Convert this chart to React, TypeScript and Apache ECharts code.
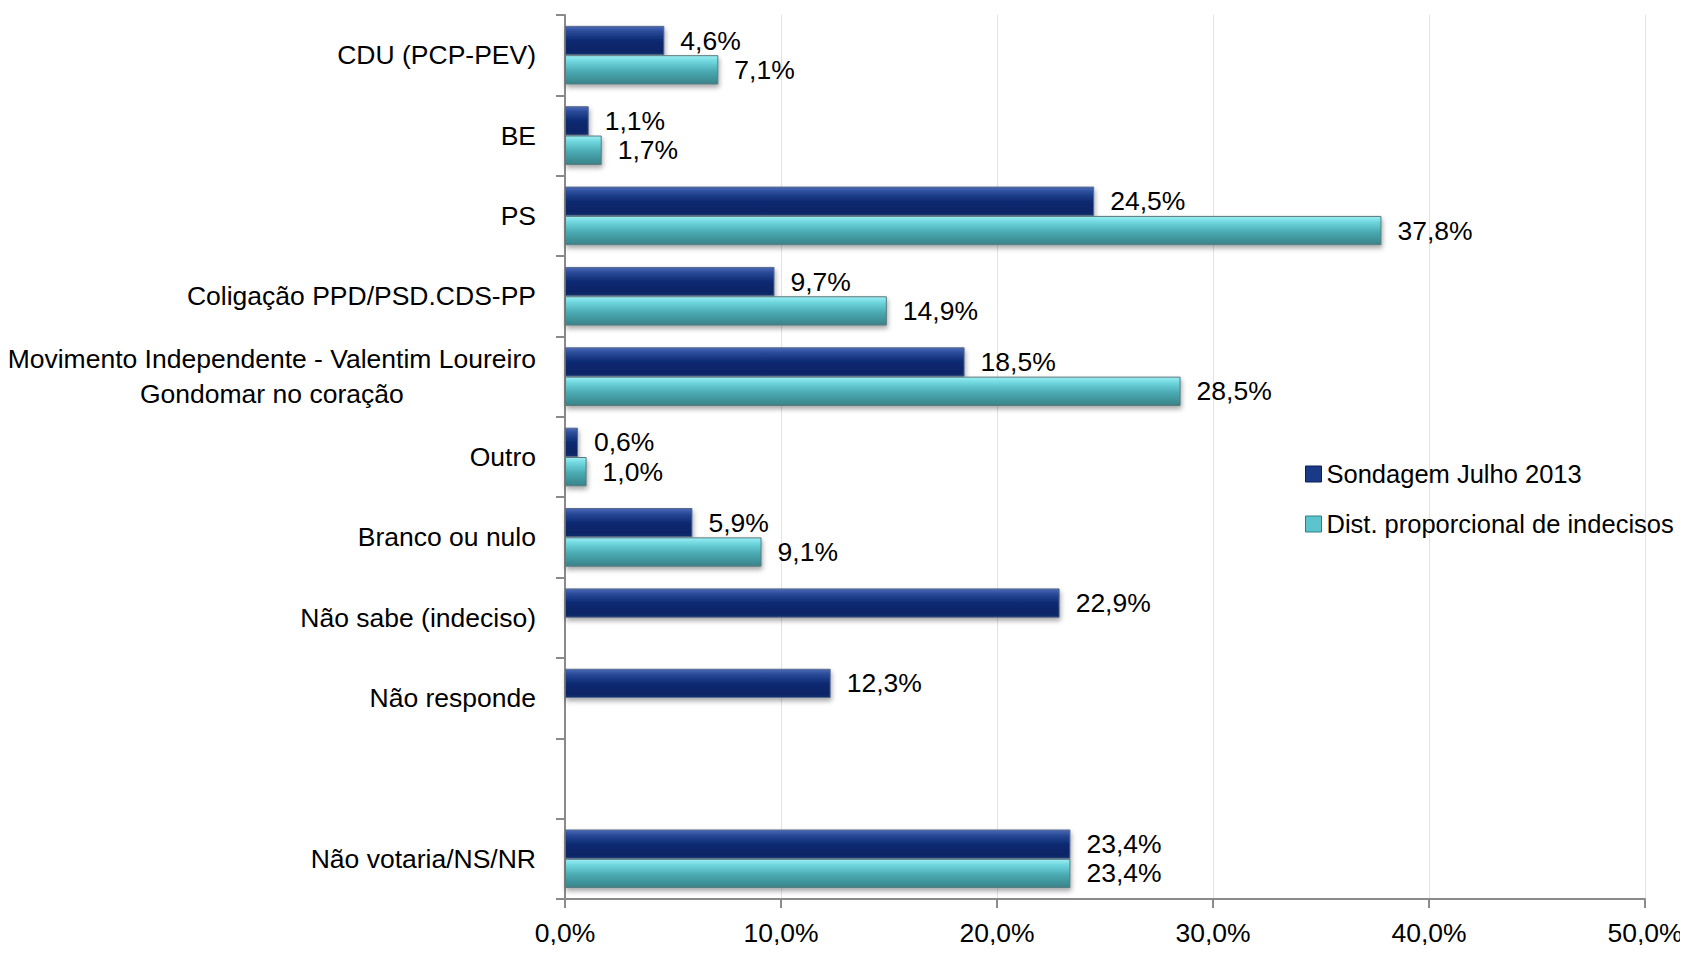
import React, { useEffect, useRef } from "react";
import * as echarts from "echarts";

const categories = [
  "CDU (PCP-PEV)",
  "BE",
  "PS",
  "Coligação PPD/PSD.CDS-PP",
  "Movimento Independente - Valentim Loureiro\nGondomar no coração",
  "Outro",
  "Branco ou nulo",
  "Não sabe (indeciso)",
  "Não responde",
  "",
  "Não votaria/NS/NR",
];
const sondagem = [4.6, 1.1, 24.5, 9.7, 18.5, 0.6, 5.9, 22.9, 12.3, null, 23.4];
const distProporcional = [7.1, 1.7, 37.8, 14.9, 28.5, 1.0, 9.1, null, null, null, 23.4];
const seriesNames = ["Sondagem Julho 2013", "Dist. proporcional de indecisos"];

const FONT = "'Liberation Sans', Arial, sans-serif";
const FS = 26.5;

const fmt = (v: number) => v.toFixed(1).replace(".", ",") + "%";

const darkGrad = new echarts.graphic.LinearGradient(0, 0, 0, 1, [
  { offset: 0, color: "#4a6ab8" },
  { offset: 0.18, color: "#2a4a98" },
  { offset: 0.5, color: "#0c2a72" },
  { offset: 0.85, color: "#0a2466" },
  { offset: 1, color: "#14306e" },
]);
const tealGrad = new echarts.graphic.LinearGradient(0, 0, 0, 1, [
  { offset: 0, color: "#9aeef4" },
  { offset: 0.2, color: "#6fd6de" },
  { offset: 0.55, color: "#4aaab2" },
  { offset: 0.85, color: "#3e9096" },
  { offset: 1, color: "#3a8288" },
]);

export default function App() {
  const ref = useRef<HTMLDivElement>(null);
  useEffect(() => {
    if (!ref.current) return;
    const chart = echarts.init(ref.current, null, { renderer: "svg" });
    const label = {
      show: true,
      position: "right" as const,
      distance: 16,
      color: "#000",
      fontFamily: FONT,
      fontSize: FS,
      formatter: (p: any) => (p.value == null ? "" : fmt(p.value)),
    };
    chart.setOption({
      animation: false,
      backgroundColor: "#fff",
      textStyle: { fontFamily: FONT },
      grid: {
        left: 565,
        right: 43,
        top: 15,
        bottom: 54,
        containLabel: false,
        outerBoundsMode: "none",
      },
      legend: {
        orient: "vertical",
        left: 1300,
        top: 456,
        itemWidth: 16,
        itemHeight: 16,
        itemGap: 24,
        itemStyle: {},
        icon: "rect",
        textStyle: { fontFamily: FONT, fontSize: 25.5, color: "#000", padding: [0, 0, 0, 0] },
        data: [
          { name: seriesNames[0], itemStyle: { color: "#1a3a88", borderColor: "#0a1f55", borderWidth: 1 } },
          { name: seriesNames[1], itemStyle: { color: "#5cc4cc", borderColor: "#2f7c82", borderWidth: 1 } },
        ],
      },
      xAxis: {
        type: "value",
        min: 0,
        max: 50,
        interval: 10,
        axisLine: { show: true, lineStyle: { color: "#8a8a8a", width: 2 } },
        axisTick: { show: true, length: 9, lineStyle: { color: "#8a8a8a", width: 2 } },
        splitLine: { show: true, lineStyle: { color: "#e2e2e2", width: 1 } },
        axisLabel: {
          fontFamily: FONT,
          fontSize: FS,
          color: "#000",
          margin: 20,
          formatter: (v: number) => fmt(v),
        },
      },
      yAxis: {
        type: "category",
        inverse: true,
        data: categories,
        axisLine: { show: true, lineStyle: { color: "#8a8a8a", width: 2 } },
        axisTick: { show: true, length: 9, lineStyle: { color: "#8a8a8a", width: 2 } },
        axisLabel: {
          fontFamily: FONT,
          fontSize: FS,
          color: "#000",
          margin: 29,
          lineHeight: 35,
          align: "right",
          formatter: (v: string) =>
            v.includes("\n")
              ? v
                  .split("\n")
                  .map((l) => `{c|${l}}`)
                  .join("\n")
              : v,
          rich: {
            c: { align: "center", fontFamily: FONT, fontSize: FS, color: "#000", lineHeight: 35 },
          },
        },
      },
      series: [
        {
          name: seriesNames[0],
          type: "bar",
          data: sondagem,
          barGap: "0%",
          barCategoryGap: "27%",
          itemStyle: {
            color: darkGrad,
            borderColor: "#5a6a8a",
            borderWidth: 1,
            shadowBlur: 5,
            shadowColor: "rgba(0,0,0,0.35)",
            shadowOffsetY: 3,
            shadowOffsetX: 1,
          },
          label,
        },
        {
          name: seriesNames[1],
          type: "bar",
          data: distProporcional,
          itemStyle: {
            color: tealGrad,
            borderColor: "#5a7a7e",
            borderWidth: 1,
            shadowBlur: 5,
            shadowColor: "rgba(0,0,0,0.35)",
            shadowOffsetY: 3,
            shadowOffsetX: 1,
          },
          label,
        },
      ],
    });
    return () => chart.dispose();
  }, []);
  return <div ref={ref} style={{ width: 1688, height: 953, margin: -8 }} />;
}
